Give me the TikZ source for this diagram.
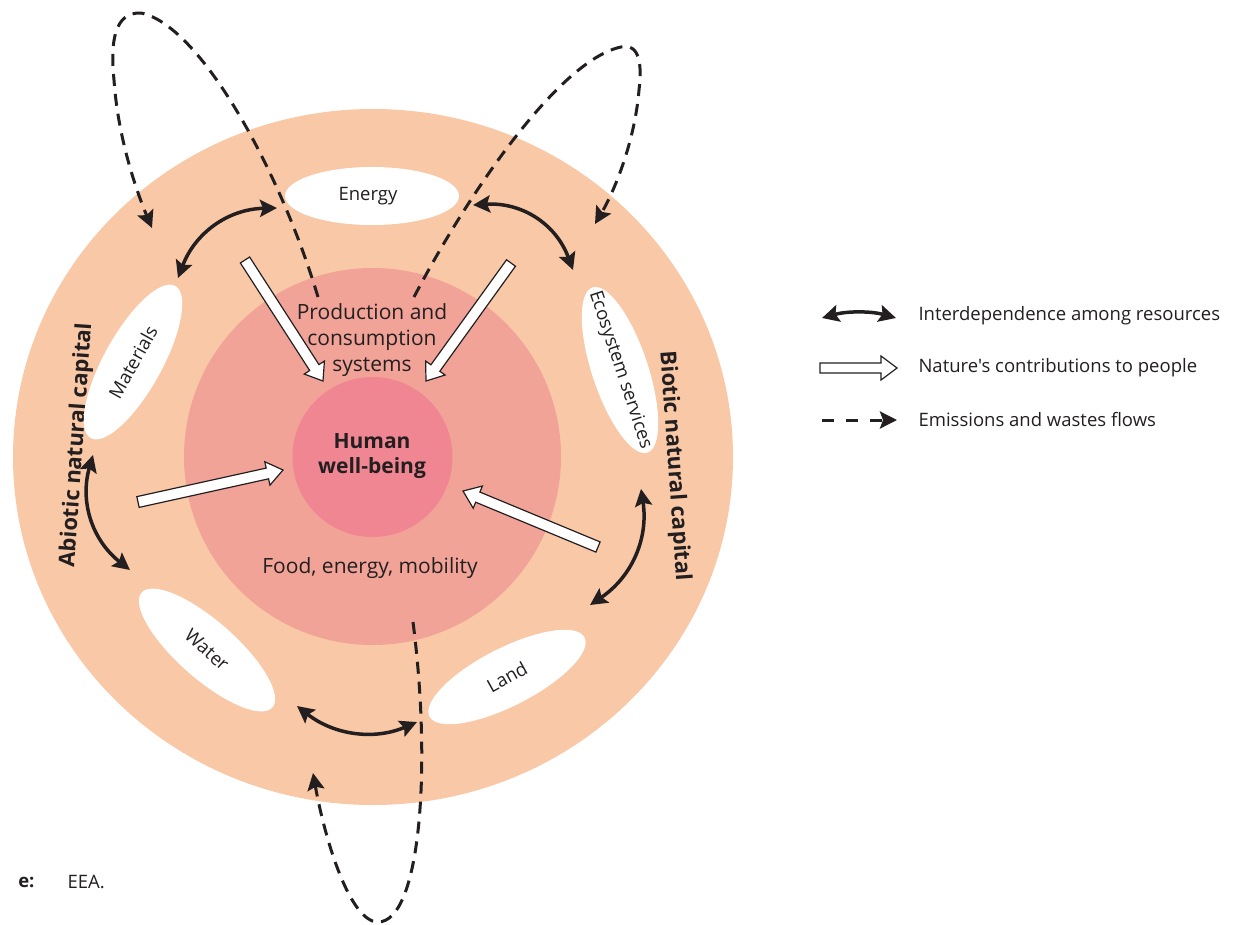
\documentclass[tikz,border=0pt]{standalone}
\usepackage{fontspec}
\setmainfont{Open Sans}[Ligatures=TeXOff]
\usetikzlibrary{shapes.geometric,arrows.meta,calc}
\definecolor{outerc}{RGB}{249,200,166}
\definecolor{midc}{RGB}{242,163,152}
\definecolor{innerc}{RGB}{240,134,145}
\definecolor{ink}{RGB}{35,31,32}
\newcommand\ncparrow[3][5.5pt]{%
  \path ($(#3)!16pt!(#2)$) coordinate (ncph);
  \filldraw[ncpstyle] ($(#2)!#1!90:(#3)$) -- ($(ncph)!#1!-90:(#2)$) -- ($(ncph)!12pt!-90:(#2)$) -- (#3)
     -- ($(ncph)!12pt!90:(#2)$) -- ($(ncph)!#1!90:(#2)$) -- ($(#2)!#1!-90:(#3)$) -- cycle;}
\begin{document}
\begin{tikzpicture}[x=1pt,y=-1pt,
  res/.style={ellipse, fill=white, minimum width=174pt, minimum height=58pt, inner sep=0pt},
  restext/.style={font=\fontsize{18.5}{22}\selectfont, text=ink, inner sep=0pt},
  inter/.style={line width=3.5pt, draw=ink, {Stealth[length=17pt,width=17pt,inset=3pt]}-{Stealth[length=17pt,width=17pt,inset=3pt]}},
  flow/.style={line width=3pt, draw=ink, dash pattern=on 12pt off 8pt, -{Stealth[length=17pt,width=17pt,inset=3pt]}},
  ncpstyle/.style={draw=ink, fill=white, line width=1.2pt, line join=miter},
  lbl/.style={text=ink, font=\fontsize{21}{26}\selectfont, align=center},
  capl/.style={text=ink, font=\bfseries\fontsize{22}{26}\selectfont},
  leg/.style={text=ink, font=\fontsize{18.5}{22}\selectfont, anchor=west},
]
\useasboundingbox (0,0) rectangle (1233,924);
% rings
\fill[outerc] (373,457) ellipse [x radius=360, y radius=348];
\fill[midc] (372.5,456.5) circle [radius=188.5];
\fill[innerc] (372.5,457) circle [radius=80];
% texts in rings
\node[lbl] (prod) at (372,340) {Production and\\consumption\\systems};
\node[lbl, font=\bfseries\fontsize{21}{25}\selectfont] (hwb) at (372,456) {Human\\well-being};
\node[lbl] (food) at (370,568) {Food, energy, mobility};
\node[capl, rotate=86] (abiotic) at (77,445) {Abiotic natural capital};
\node[capl, rotate=-86] (biotic) at (674,466) {Biotic natural capital};
% resources
\node[res] (energy) at (372,196) {};
\node[restext] (energyt) at (368,196) {Energy};
\node[res, rotate=61, minimum height=58pt] (materials) at (133,362) {};
\node[restext, rotate=61] (materialst) at (materials.center) {Materials};
\node[res, rotate=-71.6, minimum height=56pt] (eco) at (620,370) {};
\node[restext, rotate=-71.6] (ecot) at (eco.center) {Ecosystem services};
\node[res, rotate=-41.3] (water) at (207,650) {};
\node[restext, rotate=-41.3] (watert) at (water.center) {Water};
\node[res, rotate=27] (land) at (507,677) {};
\node[restext, rotate=29] (landt) at (land.center) {Land};
% nature's contributions
\coordinate (a1t) at (245,260); \coordinate (a1h) at (323,381);
\coordinate (a2t) at (511,263); \coordinate (a2h) at (426,381);
\coordinate (a3t) at (138,502); \coordinate (a3h) at (283,470);
\coordinate (a4t) at (598,547); \coordinate (a4h) at (463,491);
\ncparrow{a1t}{a1h}
\ncparrow{a2t}{a2h}
\ncparrow{a3t}{a3h}
\ncparrow{a4t}{a4h}
% interdependence
\coordinate (em1) at (277,208); \coordinate (em2) at (178,278);
\coordinate (ee1) at (473,205); \coordinate (ee2) at (573,270);
\coordinate (mw1) at (93,455);  \coordinate (mw2) at (130,570);
\coordinate (el1) at (641,489); \coordinate (el2) at (590,605);
\coordinate (wl1) at (297,706); \coordinate (wl2) at (417,722);
\draw[inter] (em1) .. controls (228,209) and (195,233) .. (em2);
\draw[inter] (ee1) .. controls (522,202) and (556,224) .. (ee2);
\draw[inter] (mw1) .. controls (79.6,501.6) and (92,540) .. (mw2);
\draw[inter] (el1) .. controls (648.7,538.5) and (631.7,577) .. (el2);
\draw[inter] (wl1) .. controls (334,735) and (374,740.5) .. (wl2);
% emissions and wastes
\coordinate (f1s) at (318,297); \coordinate (f1e) at (152,228);
\coordinate (f2s) at (414,297); \coordinate (f2e) at (595,224);
\coordinate (f3s) at (413,622); \coordinate (f3e) at (313,773);
\draw[flow] (f1s) .. controls (280,170) and (200,25) .. (141,13)
  .. controls (115,12) and (110,40) .. (114,80)
  .. controls (118,140) and (138,195) .. (f1e);
\draw[flow] (f2s) .. controls (470,190) and (560,60) .. (621,47)
  .. controls (640,43) and (642,65) .. (639,90)
  .. controls (635,140) and (615,190) .. (f2e);
\draw[flow] (f3s) .. controls (432,770) and (420,922) .. (378,922)
  .. controls (350,922) and (325,840) .. (f3e);
% legend
\coordinate (l1a) at (822,318); \coordinate (l1b) at (896,318);
\draw[inter] (l1a) .. controls (847,311) and (871,311) .. (l1b);
\node[leg] (l1t) at (915,316) {Interdependence among resources};
\coordinate (l2a) at (820,368); \coordinate (l2b) at (897,368);
\ncparrow[5pt]{l2a}{l2b}
\node[leg] (l2t) at (915,368) {Nature's contributions to people};
\coordinate (l3a) at (822,420); \coordinate (l3b) at (897,420);
\draw[flow, dash pattern=on 12pt off 12pt] (l3a) -- (l3b);
\node[leg] (l3t) at (915,420) {Emissions and wastes flows};
% source
\node[text=ink, font=\bfseries\fontsize{18.5}{22}\selectfont, anchor=east] (srcl) at (38,882) {e:};
\node[leg] (src) at (64,882) {EEA.};
\end{tikzpicture}
\end{document}
